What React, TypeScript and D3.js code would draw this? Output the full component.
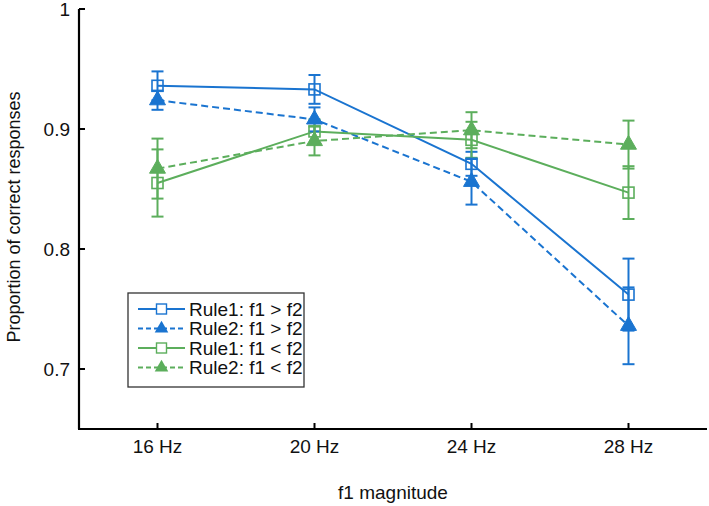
import React from "react";
import * as d3 from "d3";

const categories = ["16 Hz", "20 Hz", "24 Hz", "28 Hz"];
const yTicks = [0.7, 0.8, 0.9, 1];

const rule1Gt = [0.936, 0.933, 0.871, 0.762];
const rule1GtErr = [0.012, 0.012, 0.01, 0.03];
const rule2Gt = [0.924, 0.908, 0.856, 0.736];
const rule2GtErr = [0.008, 0.01, 0.019, 0.032];
const rule1Lt = [0.855, 0.898, 0.891, 0.847];
const rule1LtErr = [0.028, 0.01, 0.015, 0.022];
const rule2Lt = [0.867, 0.89, 0.899, 0.887];
const rule2LtErr = [0.025, 0.012, 0.015, 0.02];

const seriesNames = ["Rule1: f1 > f2", "Rule2: f1 > f2", "Rule1: f1 < f2", "Rule2: f1 < f2"];

const BLUE = "#1a74d0";
const GREEN = "#5cae5c";

const W = 709;
const H = 506;
const FONT = "'Liberation Sans', Arial, sans-serif";

const series = [
  { name: seriesNames[0], values: rule1Gt, err: rule1GtErr, color: BLUE, dashed: false, marker: "square" },
  { name: seriesNames[1], values: rule2Gt, err: rule2GtErr, color: BLUE, dashed: true, marker: "triangle" },
  { name: seriesNames[2], values: rule1Lt, err: rule1LtErr, color: GREEN, dashed: false, marker: "square" },
  { name: seriesNames[3], values: rule2Lt, err: rule2LtErr, color: GREEN, dashed: true, marker: "triangle" },
];

function Marker({ type, cx, cy, color }: { type: string; cx: number; cy: number; color: string }) {
  if (type === "square") {
    const s = 11;
    return <rect x={cx - s / 2} y={cy - s / 2} width={s} height={s} fill="none" stroke={color} strokeWidth={1.6} />;
  }
  const tri = d3.symbol().type(d3.symbolTriangle).size(110)();
  return <path d={tri || ""} transform={`translate(${cx},${cy})`} fill={color} stroke={color} strokeWidth={1} />;
}

export default function App() {
  const x = d3.scaleLinear().domain([-0.5, 3.5]).range([79, 707]);
  const y = d3.scaleLinear().domain([0.65, 1]).range([429, 9]);
  const line = d3
    .line<number>()
    .x((_, i) => x(i))
    .y((d) => y(d));

  const capW = 6;

  const legX = 128;
  const legY = 293;
  const legW = 176;
  const legH = 94;
  const rowH = 19.5;

  return (
    <svg width={W} height={H} style={{ position: "absolute", left: 0, top: 0, background: "#fff" }} fontFamily={FONT}>
      {/* series lines */}
      {series.map((s, si) => (
        <path
          key={"l" + si}
          d={line(s.values) || ""}
          fill="none"
          stroke={s.color}
          strokeWidth={2}
          strokeDasharray={s.dashed ? "7,4" : undefined}
        />
      ))}
      {/* error bars */}
      {series.map((s, si) =>
        s.values.map((v, i) => {
          const cx = x(i);
          const y1 = y(v + s.err[i]);
          const y2 = y(v - s.err[i]);
          return (
            <g key={`e${si}-${i}`} stroke={s.color} strokeWidth={2}>
              <line x1={cx} x2={cx} y1={y1} y2={y2} />
              <line x1={cx - capW} x2={cx + capW} y1={y1} y2={y1} />
              <line x1={cx - capW} x2={cx + capW} y1={y2} y2={y2} />
            </g>
          );
        })
      )}
      {/* markers */}
      {series.map((s, si) =>
        s.values.map((v, i) => <Marker key={`m${si}-${i}`} type={s.marker} cx={x(i)} cy={y(v)} color={s.color} />)
      )}

      {/* axes */}
      <line x1={x.range()[0]} x2={x.range()[0]} y1={y(1)} y2={y(0.65)} stroke="#000" strokeWidth={2.2} />
      <line x1={x.range()[0] - 1} x2={x.range()[1]} y1={y(0.65)} y2={y(0.65)} stroke="#000" strokeWidth={2.2} />
      {yTicks.map((t) => (
        <g key={"yt" + t}>
          <line x1={x.range()[0]} x2={x.range()[0] + 6} y1={y(t)} y2={y(t)} stroke="#000" strokeWidth={2} />
          <text x={x.range()[0] - 9} y={y(t)} dy="0.35em" textAnchor="end" fontSize={19} fill="#111">
            {d3.format("~g")(t)}
          </text>
        </g>
      ))}
      {categories.map((c, i) => (
        <g key={"xt" + i}>
          <line x1={x(i)} x2={x(i)} y1={y(0.65)} y2={y(0.65) - 6} stroke="#000" strokeWidth={2} />
          <text x={x(i)} y={y(0.65) + 24} textAnchor="middle" fontSize={19} fill="#111">
            {c}
          </text>
        </g>
      ))}
      <text x={(x.range()[0] + x.range()[1]) / 2} y={499} textAnchor="middle" fontSize={19} fill="#111">
        f1 magnitude
      </text>
      <text
        transform={`translate(20,${217}) rotate(-90)`}
        textAnchor="middle"
        fontSize={18}
        fill="#111"
      >
        Proportion of correct responses
      </text>

      {/* legend */}
      <rect x={legX} y={legY} width={legW} height={legH} fill="#fff" stroke="#333" strokeWidth={1.3} />
      {series.map((s, si) => {
        const cy = legY + 16 + si * rowH;
        return (
          <g key={"lg" + si}>
            <line
              x1={legX + 10}
              x2={legX + 57}
              y1={cy}
              y2={cy}
              stroke={s.color}
              strokeWidth={2}
              strokeDasharray={s.dashed ? "5,3" : undefined}
            />
            {s.marker === "square" ? (
              <rect x={legX + 33.5 - 5} y={cy - 5} width={10} height={10} fill="#fff" stroke={s.color} strokeWidth={1.4} />
            ) : (
              <path
                d={d3.symbol().type(d3.symbolTriangle).size(80)() || ""}
                transform={`translate(${legX + 33.5},${cy})`}
                fill={s.color}
              />
            )}
            <text x={legX + 61} y={cy} dy="0.35em" fontSize={19} fill="#111">
              {s.name}
            </text>
          </g>
        );
      })}
    </svg>
  );
}
